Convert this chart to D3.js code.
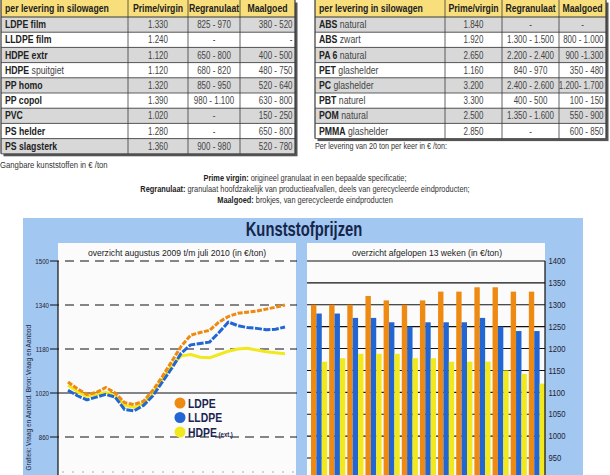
<!DOCTYPE html>
<html>
<head>
<meta charset="utf-8">
<script src="https://cdn.jsdelivr.net/npm/d3@7"></script>
<style>
  body { margin: 0; background: #fff; }
  svg { display: block; font-family: "Liberation Sans", Arial, sans-serif; }
</style>
</head>
<body>
<div id="main"></div>
<script>
// ---- table data ----
const tableHeader = ["per levering in silowagen", "Prime/virgin", "Regranulaat", "Maalgoed"];

const leftNames = [["LDPE film", ""], ["LLDPE film", ""], ["HDPE extr", ""], ["HDPE", " spuitgiet"],
  ["PP homo", ""], ["PP copol", ""], ["PVC", ""], ["PS helder", ""], ["PS slagsterk", ""]];
const leftPrime = ["1.330", "1.240", "1.120", "1.120", "1.320", "1.390", "1.020", "1.280", "1.360"];
const leftRegran = ["825 - 970", "-", "650 - 800", "680 - 820", "850 - 950", "980 - 1.100", "-", "-", "900 - 980"];
const leftMaal = ["380 - 520", "-", "400 - 500", "480 - 750", "520 - 640", "630 - 800", "150 - 250", "650 - 800", "520 - 780"];

const rightNames = [["ABS", " natural"], ["ABS", " zwart"], ["PA 6", " natural"], ["PET", " glashelder"],
  ["PC", " glashelder"], ["PBT", " naturel"], ["POM", " natural"], ["PMMA", " glashelder"]];
const rightPrime = ["1.840", "1.920", "2.650", "1.160", "3.200", "3.300", "2.500", "2.850"];
const rightRegran = ["-", "1.300 - 1.500", "2.200 - 2.400", "840 - 970", "2.400 - 2.600", "400 - 500", "1.350 - 1.600", "-"];
const rightMaal = ["-", "800 - 1.000", "900 -1.300", "350 - 480", "1.200- 1.700", "100 - 150", "550 - 900", "600 - 850"];

// ---- line chart data (half-monthly, aug 2009 - jul 2010) ----
const periods = ["aug09a", "aug09b", "sep09a", "sep09b", "okt09a", "okt09b", "nov09a", "nov09b",
  "dec09a", "dec09b", "jan10a", "jan10b", "feb10a", "feb10b", "mrt10a", "mrt10b",
  "apr10a", "apr10b", "mei10a", "mei10b", "jun10a", "jun10b", "jul10a", "jul10b"];
const ldpe = [1060, 1035, 1015, 1022, 1040, 1020, 985, 978, 990, 1030, 1080, 1135,
  1190, 1230, 1240, 1248, 1278, 1298, 1310, 1314, 1318, 1325, 1332, 1340];
const lldpe = [1030, 1010, 995, 1005, 1015, 1005, 960, 955, 975, 1010, 1060, 1110,
  1165, 1195, 1200, 1205, 1240, 1278, 1265, 1258, 1255, 1250, 1252, 1260];
const hdpe = [1048, 1025, 1008, 1015, 1022, 1012, 975, 968, 982, 1020, 1070, 1120,
  1155, 1160, 1150, 1148, 1160, 1172, 1180, 1183, 1176, 1170, 1166, 1163];
const lineTicks = [860, 1020, 1180, 1340, 1500];

// ---- bar chart data (last 13 weeks) ----
const weeks = ["17", "18", "19", "20", "21", "22", "23", "24", "25", "26", "27", "28", "29"];
const barLdpe = [1300, 1300, 1300, 1320, 1310, 1300, 1310, 1330, 1330, 1340, 1340, 1330, 1330];
const barLldpe = [1280, 1280, 1270, 1270, 1260, 1250, 1260, 1260, 1260, 1270, 1250, 1240, 1240];
const barHdpe = [1170, 1178, 1188, 1188, 1188, 1178, 1178, 1170, 1170, 1170, 1150, 1142, 1120];
const barTicks = [950, 1000, 1050, 1100, 1150, 1200, 1250, 1300, 1350, 1400];

const seriesNames = ["LDPE", "LLDPE", "HDPE"];
const colors = { LDPE: "#ee8a12", LLDPE: "#2166d2", HDPE: "#f2e81e" };

const W = 610, H = 475;
const svg = d3.select("#main").append("svg").attr("width", W).attr("height", H);

// condensed-looking text: regular font squeezed horizontally
function label(parent, x, y, size, sx, anchor) {
  return parent.append("text")
    .attr("transform", `translate(${x},${y}) scale(${sx},1)`)
    .attr("font-size", size)
    .attr("text-anchor", anchor || "start");
}

// ---------- tables ----------
function drawTable(cols, names, prime, regran, maal, dashCenter) {
  const headH = 17, rowH = 15.2, fs = 10.5, sx = 0.83, sxNum = 0.76;
  const n = names.length;
  const x = cols; // column edges
  const g = svg.append("g");
  const tw = x[x.length - 1] - x[0];
  const th = headH + n * rowH;
  g.append("rect").attr("x", x[0] + 2.5).attr("y", 2.5).attr("width", tw).attr("height", th).attr("fill", "#555");
  g.append("rect").attr("x", x[0]).attr("y", 0).attr("width", tw).attr("height", headH).attr("fill", "#f8df7c");
  g.selectAll(".row").data(names).join("rect")
    .attr("x", x[0]).attr("y", (d, i) => headH + i * rowH)
    .attr("width", tw).attr("height", rowH)
    .attr("fill", (d, i) => i % 2 === 0 ? "#d8d8d8" : "#ffffff");
  for (let i = 0; i <= n; i++) {
    g.append("line").attr("x1", x[0]).attr("x2", x[0] + tw)
      .attr("y1", headH + i * rowH).attr("y2", headH + i * rowH)
      .attr("stroke", "#3a3a3a").attr("stroke-width", i === 0 ? 1.2 : 0.8);
  }
  x.forEach((cx, j) => {
    g.append("line").attr("x1", cx).attr("x2", cx).attr("y1", 0).attr("y2", th)
      .attr("stroke", "#3a3a3a").attr("stroke-width", (j === 0 || j === x.length - 1) ? 1.2 : 0.8);
  });
  tableHeader.forEach((h, j) => {
    label(g, j === 0 ? x[0] + 4 : (x[j] + x[j + 1]) / 2, 12, fs, sx, j === 0 ? "start" : "middle")
      .attr("font-weight", "bold").attr("fill", "#222").text(h);
  });
  names.forEach((nm, i) => {
    const yy = headH + i * rowH + 11.2;
    const t = label(g, x[0] + 4, yy, fs, sx).attr("fill", "#222");
    t.append("tspan").attr("font-weight", "bold").text(nm[0]);
    if (nm[1]) t.append("tspan").attr("fill", "#444").text(nm[1]);
    label(g, (x[1] + x[2]) / 2, yy, fs, sxNum, "middle").attr("fill", "#444").text(prime[i]);
    label(g, (x[2] + x[3]) / 2, yy, fs, sxNum, "middle").attr("fill", "#444").text(regran[i]);
    const centerDash = dashCenter && maal[i] === "-";
    label(g, centerDash ? (x[3] + x[4]) / 2 : x[4] - 2.5, yy, fs, sxNum, centerDash ? "middle" : "end")
      .attr("fill", "#444").text(maal[i]);
  });
}
drawTable([1, 128, 188, 240, 295], leftNames, leftPrime, leftRegran, leftMaal, false);
drawTable([315, 445, 502, 559, 606], rightNames, rightPrime, rightRegran, rightMaal, true);

label(svg, 315, 149, 8.8, 0.82).attr("fill", "#333").text("Per levering van 20 ton per keer in € /ton:");
label(svg, 0, 168, 9, 0.86).attr("fill", "#333").text("Gangbare kunststoffen in € /ton");

const defs = [["Prime virgin:", " origineel granulaat in een bepaalde specificatie;"],
  ["Regranulaat:", " granulaat hoofdzakelijk van productieafvallen, deels van gerecycleerde eindproducten;"],
  ["Maalgoed:", " brokjes, van gerecycleerde eindproducten"]];
defs.forEach((d, i) => {
  const t = label(svg, 305, 181 + i * 11, 8.8, 0.84, "middle").attr("fill", "#222");
  t.append("tspan").attr("font-weight", "bold").text(d[0]);
  t.append("tspan").attr("fill", "#333").text(d[1]);
});

// ---------- chart frame ----------
svg.append("rect").attr("x", 23).attr("y", 218).attr("width", 560).attr("height", H - 218).attr("fill", "#a2c7f1");
label(svg, 304, 236, 20, 0.74, "middle").attr("font-weight", "bold").attr("fill", "#16264a").text("Kunststofprijzen");

// ---------- left: line chart ----------
const lp = { x0: 58, x1: 296, top: 243 };
svg.append("rect").attr("x", lp.x0).attr("y", lp.top).attr("width", lp.x1 - lp.x0).attr("height", H - lp.top).attr("fill", "#fbfbfb");
label(svg, 177, 256, 8.6, 1.0, "middle").attr("fill", "#222")
  .text("overzicht augustus 2009 t/m juli 2010 (in €/ton)");

const xL = d3.scalePoint().domain(periods).range([68, 285]);
const yL = d3.scaleLinear().domain([860, 1500]).range([437, 261]);

lineTicks.forEach(v => {
  svg.append("line").attr("x1", 50).attr("x2", 297).attr("y1", yL(v)).attr("y2", yL(v))
    .attr("stroke", "#111").attr("stroke-width", 1.2)
    .attr("stroke-dasharray", v === 1020 ? null : "9,6");
});
svg.append("g").attr("transform", `translate(${lp.x0},0)`)
  .call(d3.axisLeft(yL).tickValues(lineTicks).tickFormat(d3.format("d")).tickSize(0).tickPadding(11))
  .call(g => g.select(".domain").remove())
  .call(g => g.selectAll("text").attr("font-size", 7.5).attr("fill", "#223")
    .attr("font-family", "Liberation Sans, Arial, sans-serif").attr("transform", "scale(0.82,1)"));
svg.append("line").attr("x1", lp.x0).attr("x2", lp.x0).attr("y1", yL(1500)).attr("y2", H)
  .attr("stroke", "#111").attr("stroke-width", 1.2);
svg.append("line").attr("x1", 62).attr("x2", 296).attr("y1", 472).attr("y2", 472)
  .attr("stroke", "#999").attr("stroke-width", 0.8).attr("stroke-dasharray", "2,8");

svg.append("text").attr("transform", "translate(31,325) rotate(-90)").attr("text-anchor", "end")
  .attr("font-size", 6.5).attr("fill", "#223").text("Grafiek: Vraag en Aanbod. Bron: Vraag en Aanbod");

const lineGen = d3.line().x((d, i) => xL(periods[i])).y(d => yL(d));
const lineSeries = [["HDPE", hdpe, null], ["LLDPE", lldpe, "7,1.5"], ["LDPE", ldpe, "5,1.5"]];
lineSeries.forEach(([name, vals, dash]) => {
  svg.append("path").datum(vals).attr("d", lineGen).attr("fill", "none")
    .attr("stroke", colors[name]).attr("stroke-width", 3).attr("stroke-linejoin", "round")
    .attr("stroke-dasharray", dash);
});

// legend
const legendLabels = [["LDPE", ""], ["LLDPE", ""], ["HDPE", " (ext.)"]];
legendLabels.forEach(([name, extra], i) => {
  const yy = 403 + i * 14.5;
  svg.append("circle").attr("cx", 180).attr("cy", yy).attr("r", 5.5).attr("fill", colors[name]);
  const t = label(svg, 188, yy + 4.5, 13, 0.8).attr("font-weight", "bold").attr("fill", "#1a2550");
  t.append("tspan").text(name);
  if (extra) t.append("tspan").attr("font-size", 7.5).text(extra);
});

// ---------- right: bar chart ----------
const rp = { x0: 307, x1: 545, top: 243 };
svg.append("rect").attr("x", rp.x0).attr("y", rp.top).attr("width", rp.x1 - rp.x0).attr("height", H - rp.top).attr("fill", "#fbfbfb");
label(svg, 427, 256, 8.6, 1.0, "middle").attr("fill", "#222")
  .text("overzicht afgelopen 13 weken (in €/ton)");

const x0B = d3.scaleBand().domain(weeks).range([311, 545]).paddingInner(0.11).paddingOuter(0);
const x1B = d3.scaleBand().domain(seriesNames).range([0, x0B.bandwidth()]);
const yB = d3.scaleLinear().domain([950, 1400]).range([458, 261]);

barTicks.forEach(v => {
  svg.append("line").attr("x1", rp.x0).attr("x2", rp.x1).attr("y1", yB(v)).attr("y2", yB(v))
    .attr("stroke", "#111").attr("stroke-width", 1.1);
});

const barVals = { LDPE: barLdpe, LLDPE: barLldpe, HDPE: barHdpe };
const groups = svg.append("g").selectAll("g").data(weeks).join("g")
  .attr("transform", d => `translate(${x0B(d)},0)`);
groups.selectAll("rect").data((d, i) => seriesNames.map(s => ({ s, v: barVals[s][i] }))).join("rect")
  .attr("x", d => x1B(d.s)).attr("width", x1B.bandwidth())
  .attr("y", d => yB(d.v)).attr("height", d => yB(880) - yB(d.v))
  .attr("fill", d => colors[d.s]);

svg.append("g").attr("transform", `translate(${rp.x1},0)`)
  .call(d3.axisRight(yB).tickValues(barTicks).tickFormat(d3.format("d")).tickSize(0).tickPadding(4))
  .call(g => g.select(".domain").remove())
  .call(g => g.selectAll("text").attr("font-size", 8.5).attr("fill", "#223")
    .attr("font-family", "Liberation Sans, Arial, sans-serif").attr("transform", "scale(0.9,1)"));
svg.append("line").attr("x1", rp.x1).attr("x2", rp.x1).attr("y1", yB(1400)).attr("y2", H)
  .attr("stroke", "#111").attr("stroke-width", 1.2);
</script>
</body>
</html>
